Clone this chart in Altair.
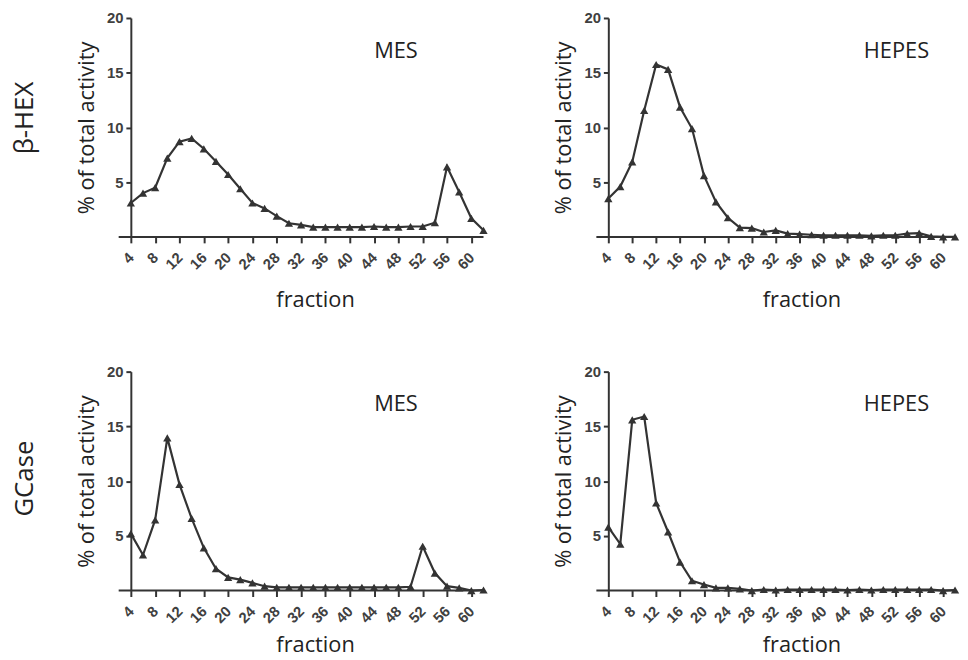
import altair as alt
import pandas as pd

fractions = [4, 6, 8, 10, 12, 14, 16, 18, 20, 22, 24, 26, 28, 30, 32,
             34, 36, 38, 40, 42, 44, 46, 48, 50, 52, 54, 56, 58, 60, 62]

hex_mes = [3.1, 4.0, 4.5, 7.2, 8.7, 9.0, 8.05, 6.9, 5.7, 4.4, 3.1, 2.6, 1.9, 1.25, 1.1,
           0.9, 0.9, 0.9, 0.9, 0.9, 0.95, 0.9, 0.9, 0.95, 0.95, 1.3, 6.4, 4.1, 1.7, 0.6]

hex_hepes = [3.5, 4.6, 6.85, 11.55, 15.75, 15.3, 11.85, 9.9, 5.6, 3.2, 1.75, 0.85, 0.8, 0.45, 0.6,
             0.3, 0.25, 0.2, 0.15, 0.15, 0.15, 0.15, 0.1, 0.15, 0.15, 0.3, 0.35, 0.05, 0.0, 0.0]

gcase_mes = [5.2, 3.25, 6.45, 13.95, 9.7, 6.6, 3.9, 2.0, 1.2, 1.0, 0.7, 0.4, 0.3, 0.3, 0.3,
             0.3, 0.3, 0.3, 0.3, 0.3, 0.3, 0.3, 0.3, 0.35, 4.05, 1.6, 0.4, 0.25, 0.0, 0.05]

gcase_hepes = [5.8, 4.25, 15.6, 15.9, 8.0, 5.35, 2.6, 0.9, 0.55, 0.25, 0.25, 0.15, 0.0, 0.1, 0.05,
               0.1, 0.1, 0.1, 0.1, 0.1, 0.05, 0.1, 0.05, 0.1, 0.1, 0.1, 0.1, 0.1, 0.0, 0.05]

x_ticks = [4, 8, 12, 16, 20, 24, 28, 32, 36, 40, 44, 48, 52, 56, 60]
y_ticks = [5, 10, 15, 20]

DARK = "#333333"
H = 221


def panel(values, buffer_label, label_x, width, x_title_x, row_label=None, x_title_y=70):
    df = pd.DataFrame({"fraction": fractions, "activity": values})
    one = pd.DataFrame({"k": [0]})
    x_scale = alt.Scale(domain=[4, 62], nice=False, zero=False)
    y_scale = alt.Scale(domain=[0, 20], nice=False)
    x_axis = alt.Axis(values=x_ticks, title="fraction", domain=False,
                      labelAngle=315, labelAlign="right", labelBaseline="middle",
                      labelPadding=12, tickSize=6, labelOverlap=False,
                      titleX=x_title_x, titleY=x_title_y, titleAlign="center",
                      titleBaseline="alphabetic")
    y_axis = alt.Axis(values=y_ticks, title="% of total activity",
                      tickSize=5, labelPadding=3, labelOverlap=False,
                      titleX=-45, titleY=H / 2, titleAngle=270,
                      titleAlign="center", titleBaseline="middle")
    x = alt.X("fraction:Q", scale=x_scale, axis=x_axis)
    y = alt.Y("activity:Q", scale=y_scale, axis=y_axis)
    axis_line = alt.Chart(one).mark_rule(color=DARK, strokeWidth=2).encode(
        x=alt.XDatum(2, type="quantitative", scale=x_scale, axis=x_axis),
        x2=alt.X2Datum(62),
        y=alt.YDatum(0, type="quantitative", scale=y_scale, axis=y_axis))
    line = alt.Chart(df).mark_line(color=DARK, strokeWidth=2.2).encode(x=x, y=y)
    pts = alt.Chart(df).mark_point(shape="triangle-up", filled=True, size=70,
                                   color=DARK, opacity=1).encode(x=x, y=y)
    lab = alt.Chart(one).mark_text(text=buffer_label, font="Open Sans", fontSize=22,
                                   color="#222222").encode(
        x=alt.XDatum(label_x, type="quantitative", scale=x_scale, axis=x_axis),
        y=alt.YDatum(17, type="quantitative", scale=y_scale, axis=y_axis))
    layers = [axis_line, line, pts, lab]
    if row_label is not None:
        rl = alt.Chart(one).mark_text(text=row_label, font="Open Sans", fontSize=26,
                                      angle=270, color="#222222").encode(
            x=alt.value(-107), y=alt.value(101 if row_label == "β-HEX" else 108))
        layers.append(rl)
    return alt.layer(*layers).properties(width=width, height=H)


tl = panel(hex_mes, "MES", 47.6, 356, 186, row_label="β-HEX", x_title_y=70)
tr = panel(hex_hepes, "HEPES", 52.2, 350, 195, x_title_y=70)
bl = panel(gcase_mes, "MES", 47.6, 356, 186, row_label="GCase", x_title_y=62)
br = panel(gcase_hepes, "HEPES", 52.2, 350, 195, x_title_y=62)

chart = alt.concat(tl, tr, bl, br, columns=2,
                   spacing={"row": 136, "column": 126}, bounds="flush").properties(
    padding={"left": 4, "top": 0, "right": 0, "bottom": 0}
).configure_view(stroke=None).configure_axis(
    grid=False,
    domainColor=DARK, domainWidth=2,
    tickColor=DARK, tickWidth=2,
    labelFont="Liberation Sans", labelFontWeight="bold", labelFontSize=15,
    labelColor="#404040", labelOverlap=False,
    titleFont="Open Sans", titleFontWeight="normal", titleFontSize=22,
    titleColor="#222222",
)

chart.save("out.html", embed_options={"renderer": "svg", "actions": False})
